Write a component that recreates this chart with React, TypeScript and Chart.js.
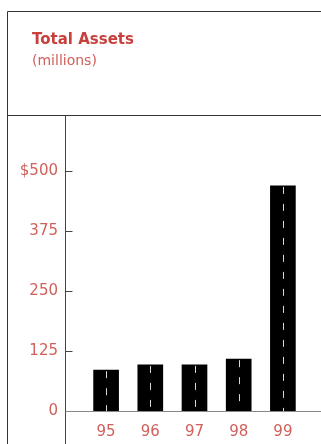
import React, { useEffect, useRef } from "react";
import { Chart, registerables } from "chart.js";

Chart.register(...registerables);

const categories = ["95", "96", "97", "98", "99"];
const assets = [85, 96, 96, 108, 469];
const yTicks = [0, 125, 250, 375, 500];
const title = "Total Assets";
const subtitle = "(millions)";

const RED = "#c8403d";
const RED_LIGHT = "#d0605b";
const FONT = "'DejaVu Sans', sans-serif";

const framePlugin = {
  id: "frame",
  afterDraw(chart: any) {
    const ctx = chart.ctx;
    const W = chart.width;
    const H = chart.height;
    const y = chart.scales.y;
    const axisX = 65.5;
    ctx.save();
    ctx.strokeStyle = "#333";
    ctx.lineWidth = 1;
    ctx.beginPath();
    ctx.moveTo(7.5, H);
    ctx.lineTo(7.5, 11.5);
    ctx.lineTo(W, 11.5);
    ctx.moveTo(7, 115.5);
    ctx.lineTo(W, 115.5);
    ctx.stroke();
    ctx.strokeStyle = "#444";
    ctx.beginPath();
    ctx.moveTo(axisX, 115.5);
    ctx.lineTo(axisX, H);
    ctx.stroke();
    ctx.beginPath();
    for (const v of yTicks) {
      if (v === 0) continue;
      const py = Math.round(y.getPixelForValue(v)) + 0.5;
      ctx.moveTo(axisX, py);
      ctx.lineTo(axisX + 7, py);
    }
    ctx.stroke();
    ctx.strokeStyle = "#888";
    const zy = Math.round(y.getPixelForValue(0)) + 0.5;
    ctx.beginPath();
    ctx.moveTo(axisX, zy);
    ctx.lineTo(W, zy);
    ctx.stroke();
    const meta = chart.getDatasetMeta(0);
    ctx.strokeStyle = "#d8d8d8";
    ctx.setLineDash([7, 10]);
    for (const bar of meta.data) {
      const bx = Math.round(bar.x) + 0.5;
      ctx.beginPath();
      ctx.moveTo(bx, bar.y + 1);
      ctx.lineTo(bx, bar.base);
      ctx.stroke();
    }
    ctx.setLineDash([]);
    ctx.textBaseline = "alphabetic";
    ctx.textAlign = "left";
    ctx.fillStyle = RED;
    ctx.font = `bold 15px ${FONT}`;
    ctx.fillText(title, 32, 44);
    ctx.fillStyle = RED_LIGHT;
    ctx.font = `14px ${FONT}`;
    ctx.fillText(subtitle, 32, 65);
    ctx.restore();
  },
};

export default function App() {
  const ref = useRef<HTMLCanvasElement>(null);
  useEffect(() => {
    if (!ref.current) return;
    const chart = new Chart(ref.current, {
      type: "bar",
      data: {
        labels: categories,
        datasets: [
          {
            data: assets,
            backgroundColor: "#000",
            borderWidth: 0,
            barThickness: 25,
          },
        ],
      },
      options: {
        responsive: false,
        animation: false,
        devicePixelRatio: 1,
        layout: { padding: { top: 123, right: 16, left: 0, bottom: 0 } },
        plugins: { legend: { display: false }, tooltip: { enabled: false } },
        scales: {
          x: {
            grid: { display: false, drawTicks: false },
            border: { display: false },
            ticks: {
              color: RED_LIGHT,
              font: { family: FONT, size: 15 },
              padding: 12,
            },
            afterFit(scale: any) {
              scale.height = 33;
            },
          },
          y: {
            min: 0,
            max: 600,
            grid: { display: false, drawTicks: false },
            border: { display: false },
            afterBuildTicks(scale: any) {
              scale.ticks = yTicks.map((v) => ({ value: v }));
            },
            afterFit(scale: any) {
              scale.width = 84;
              scale.paddingTop = 0;
              scale.paddingBottom = 0;
            },
            ticks: {
              color: RED_LIGHT,
              font: { family: FONT, size: 15 },
              padding: 26,
              callback: (v: any) => (v === 500 ? "$500" : String(v)),
            },
          },
        },
      },
      plugins: [framePlugin],
    });
    return () => chart.destroy();
  }, []);
  return (
    <div style={{ position: "fixed", left: 0, top: 0, width: 321, height: 444, background: "#fff" }}>
      <canvas ref={ref} width={321} height={444} style={{ display: "block" }} />
    </div>
  );
}
